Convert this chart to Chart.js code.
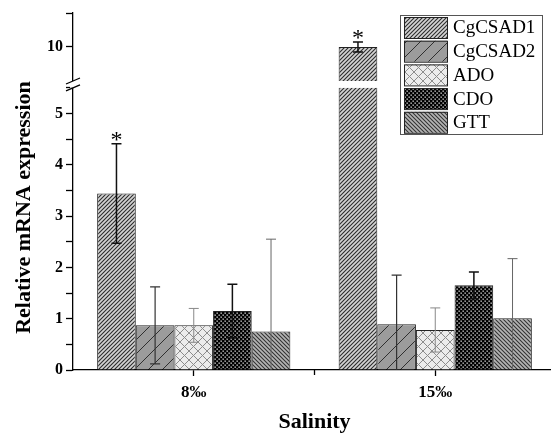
<!DOCTYPE html>
<html>
<head>
<meta charset="utf-8">
<script src="https://cdn.jsdelivr.net/npm/chart.js@4.4.1/dist/chart.umd.min.js"></script>
<style>
  html, body { margin: 0; padding: 0; background: #fff; }
  #wrap { width: 551px; height: 433px; overflow: hidden; }
</style>
</head>
<body>
<div id="wrap"><canvas id="chart" width="556" height="433"></canvas></div>
<script>
// ─── Data ─────────────────────────────────────────────────────────────────────

const SALINITY = ['8‰', '15‰'];
const GENES    = ['CgCSAD1', 'CgCSAD2', 'ADO', 'CDO', 'GTT'];

const CGCSAD1 = [3.44, 10.0];
const CGCSAD2 = [0.87, 0.89];
const ADO     = [0.87, 0.78];
const CDO     = [1.15, 1.65];
const GTT     = [0.75, 1.01];

const ERR_CGCSAD1 = [0.97, 0.15];
const ERR_CGCSAD2 = [0.75, 0.96];
const ERR_ADO     = [0.33, 0.43];
const ERR_CDO     = [0.52, 0.26];
const ERR_GTT     = [1.80, 1.16];

const SIGNIF_CGCSAD1 = [true, true];

const LOWER_LABELS = [0, 1, 2, 3, 4, 5];
const UPPER_LABELS = [10];
const LOWER_RANGE  = [0, 5.5];
const UPPER_RANGE  = [8.8, 11];
const BREAK_FROM   = 9;

// ─── Style ────────────────────────────────────────────────────────────────────

const SERIF = "'Liberation Serif','Times New Roman',serif";
const INK   = '#000';

function makePattern(kind) {
  const c = document.createElement('canvas');
  const s = { fine: 4, coarse: 14, cross: 9, dots: 4, back: 4 }[kind];
  c.width = c.height = s;
  const g = c.getContext('2d');
  const line = (x0, y0, x1, y1) => { g.beginPath(); g.moveTo(x0, y0); g.lineTo(x1, y1); g.stroke(); };
  const slash = () => { line(-1, s + 1, s + 1, -1); line(-1, 1, 1, -1); line(s - 1, s + 1, s + 1, s - 1); };
  const back  = () => { line(-1, -1, s + 1, s + 1); line(s - 1, -1, s + 1, 1); line(-1, s - 1, 1, s + 1); };

  if (kind === 'fine')   { g.fillStyle = '#d4d4d4'; g.fillRect(0, 0, s, s); g.strokeStyle = '#2b2b2b'; g.lineWidth = 1.1; slash(); }
  if (kind === 'coarse') { g.fillStyle = '#9c9c9c'; g.fillRect(0, 0, s, s); g.strokeStyle = '#303030'; g.lineWidth = 1; slash(); }
  if (kind === 'cross')  { g.fillStyle = '#ececec'; g.fillRect(0, 0, s, s); g.strokeStyle = '#8c8c8c'; g.lineWidth = 1; slash(); back(); }
  if (kind === 'dots')   { g.fillStyle = '#000'; g.fillRect(0, 0, s, s); g.fillStyle = '#e6e6e6'; g.fillRect(0.5, 0.5, 1.3, 1.3); g.fillRect(2.5, 2.5, 1.3, 1.3); }
  if (kind === 'back')   { g.fillStyle = '#b4b4b4'; g.fillRect(0, 0, s, s); g.strokeStyle = '#333'; g.lineWidth = 1.1; back(); }
  return g.createPattern(c, 'repeat');
}

const FILLS      = [makePattern('fine'), makePattern('coarse'), makePattern('cross'), makePattern('dots'), makePattern('back')];
const ERR_COLORS = ['#111', '#333', '#888', '#111', '#666'];
const ERR_WIDTHS = [1.5, 1.2, 1, 1.5, 1];

// ─── Plugins ──────────────────────────────────────────────────────────────────

// keep each dataset inside its own stacked axis
const clipToAxis = {
  id: 'clipToAxis',
  beforeDatasetDraw(chart, { meta }) {
    const s = chart.scales[meta.yAxisID], a = chart.chartArea, ctx = chart.ctx;
    ctx.save();
    ctx.beginPath();
    ctx.rect(a.left, s.top, a.right - a.left, s.bottom - s.top + 2);
    ctx.clip();
  },
  afterDatasetDraw(chart) { chart.ctx.restore(); },
};

const errorBars = {
  id: 'errorBars',
  afterDatasetsDraw(chart) {
    const ctx = chart.ctx;
    chart.data.datasets.forEach((ds, di) => {
      const meta = chart.getDatasetMeta(di);
      const s = chart.scales[meta.yAxisID];
      ds.data.forEach((raw, i) => {
        if (raw == null) return;
        const v = Array.isArray(raw) ? raw[1] : raw;
        if (v > s.max) return;
        const e = ds.errors[i];
        const x = meta.data[i].x;
        const yTop = s.getPixelForValue(v + e);
        const lo = Math.max(v - e, s.min);
        const yBot = s.getPixelForValue(lo);
        ctx.save();
        ctx.strokeStyle = ds.errColor;
        ctx.lineWidth = ds.errWidth;
        ctx.beginPath();
        ctx.moveTo(x, yTop); ctx.lineTo(x, yBot);
        ctx.moveTo(x - 5, yTop); ctx.lineTo(x + 5, yTop);
        if (lo > s.min) { ctx.moveTo(x - 5, yBot); ctx.lineTo(x + 5, yBot); }
        ctx.stroke();
        if (ds.signif && ds.signif[i]) {
          ctx.fillStyle = INK;
          ctx.font = `24px ${SERIF}`;
          ctx.textAlign = 'center';
          ctx.textBaseline = 'alphabetic';
          ctx.fillText('*', x, yTop + 3.5);
        }
        ctx.restore();
      });
    });
  },
};

const axisDecor = {
  id: 'axisDecor',
  afterDraw(chart) {
    const ctx = chart.ctx, { x, y, y2 } = chart.scales, a = chart.chartArea;
    ctx.save();
    ctx.strokeStyle = INK;
    ctx.lineWidth = 1.3;
    // tick between the two salinity groups
    const xm = (x.getPixelForValue(0) + x.getPixelForValue(1)) / 2;
    ctx.beginPath(); ctx.moveTo(xm, a.bottom); ctx.lineTo(xm, a.bottom + 5); ctx.stroke();
    // axis break
    const yb0 = y2.getPixelForValue(BREAK_FROM), yb1 = y.top;
    ctx.fillStyle = '#fff';
    ctx.fillRect(a.left - 3, yb0, 6, yb1 - yb0);
    ctx.beginPath();
    [yb0, yb1].forEach(yc => { ctx.moveTo(a.left - 7, yc + 3); ctx.lineTo(a.left + 7, yc - 3); });
    ctx.stroke();
    // y title
    ctx.fillStyle = INK;
    ctx.font = `bold 22px ${SERIF}`;
    ctx.textAlign = 'center';
    ctx.textBaseline = 'middle';
    ctx.translate(24, (a.top + a.bottom) / 2 + 16);
    ctx.rotate(-Math.PI / 2);
    ctx.fillText('Relative mRNA expression', 0, 0);
    ctx.restore();
  },
};

const boxLegend = {
  id: 'boxLegend',
  afterDraw(chart) {
    const ctx = chart.ctx;
    const bx = 400, by = 15, bw = 142, bh = 119, row = 23.7;
    ctx.save();
    ctx.fillStyle = '#fff';
    ctx.fillRect(bx, by, bw, bh);
    ctx.strokeStyle = '#555';
    ctx.lineWidth = 1;
    ctx.strokeRect(bx + 0.5, by + 0.5, bw, bh);
    chart.data.datasets.filter(ds => !ds.noLegend).forEach((ds, i) => {
      const sy = by + 2 + i * row;
      ctx.fillStyle = ds.backgroundColor;
      ctx.fillRect(bx + 4, sy, 43, 21);
      ctx.strokeStyle = '#222';
      ctx.strokeRect(bx + 4.5, sy + 0.5, 43, 21);
      ctx.fillStyle = INK;
      ctx.font = `19px ${SERIF}`;
      ctx.textBaseline = 'middle';
      ctx.fillText(ds.label, bx + 53, sy + 11.5);
    });
    ctx.restore();
  },
};

// ─── Chart ────────────────────────────────────────────────────────────────────

const SERIES = [CGCSAD1, CGCSAD2, ADO, CDO, GTT];
const ERRORS = [ERR_CGCSAD1, ERR_CGCSAD2, ERR_ADO, ERR_CDO, ERR_GTT];

const barBase = {
  borderColor: '#222',
  borderWidth: 1,
  barPercentage: 1,
  categoryPercentage: 0.8,
};

const datasets = GENES.map((g, i) => ({
  ...barBase,
  label: g,
  data: SERIES[i],
  errors: ERRORS[i],
  errColor: ERR_COLORS[i],
  errWidth: ERR_WIDTHS[i],
  signif: i === 0 ? SIGNIF_CGCSAD1 : null,
  backgroundColor: FILLS[i],
  yAxisID: 'y',
  stack: 's' + i,
}));

// upper part of CgCSAD1 above the axis break
datasets.push({
  ...barBase,
  label: 'CgCSAD1',
  noLegend: true,
  data: CGCSAD1.map(v => (v > LOWER_RANGE[1] ? [BREAK_FROM, v] : null)),
  errors: ERR_CGCSAD1,
  errColor: ERR_COLORS[0],
  errWidth: ERR_WIDTHS[0],
  signif: SIGNIF_CGCSAD1,
  backgroundColor: FILLS[0],
  yAxisID: 'y2',
  stack: 's0',
});

const tickFont = { family: SERIF, size: 16, weight: 'bold' };

new Chart(document.getElementById('chart'), {
  type: 'bar',
  data: { labels: SALINITY, datasets },
  plugins: [clipToAxis, errorBars, axisDecor, boxLegend],
  options: {
    responsive: false,
    animation: false,
    devicePixelRatio: 1,
    layout: { padding: { top: 13, right: 0, left: 0, bottom: 0 } },
    plugins: { legend: { display: false }, tooltip: { enabled: false } },
    scales: {
      x: {
        type: 'category',
        offset: true,
        grid: { offset: false, drawOnChartArea: false, tickLength: 6, color: INK, tickWidth: 1.3 },
        border: { color: INK, width: 1.3 },
        ticks: { font: { ...tickFont, size: 17 }, color: INK, padding: 6 },
        title: {
          display: true, text: 'Salinity', color: INK, padding: 0,
          font: { family: SERIF, size: 22, weight: 'bold', lineHeight: 1 },
        },
        afterFit: s => { s.height = 63; },
      },
      y: {
        type: 'linear', position: 'left', stack: 'broken', stackWeight: 283, weight: 0,
        min: LOWER_RANGE[0], max: LOWER_RANGE[1], stacked: false,
        ticks: {
          stepSize: 0.5, autoSkip: false, font: tickFont, color: INK, padding: 3,
          callback: v => (LOWER_LABELS.includes(v) ? v : ''),
        },
        grid: { drawOnChartArea: false, tickLength: 7, color: INK, tickWidth: 1.3 },
        border: { color: INK, width: 1.3 },
        afterFit: s => { s.width = 73; },
      },
      y2: {
        type: 'linear', position: 'left', stack: 'broken', stackWeight: 75, weight: 1,
        min: UPPER_RANGE[0], max: UPPER_RANGE[1], stacked: false,
        ticks: {
          stepSize: 1, autoSkip: false, font: tickFont, color: INK, padding: 3,
          callback: v => (UPPER_LABELS.includes(v) ? v : ''),
        },
        grid: {
          drawOnChartArea: false, tickLength: 7, tickWidth: 1.3,
          tickColor: c => (c.tick && c.tick.value >= 10 ? INK : 'rgba(0,0,0,0)'),
        },
        border: { color: INK, width: 1.3 },
        afterFit: s => { s.width = 73; },
      },
    },
  },
});
</script>
</body>
</html>
